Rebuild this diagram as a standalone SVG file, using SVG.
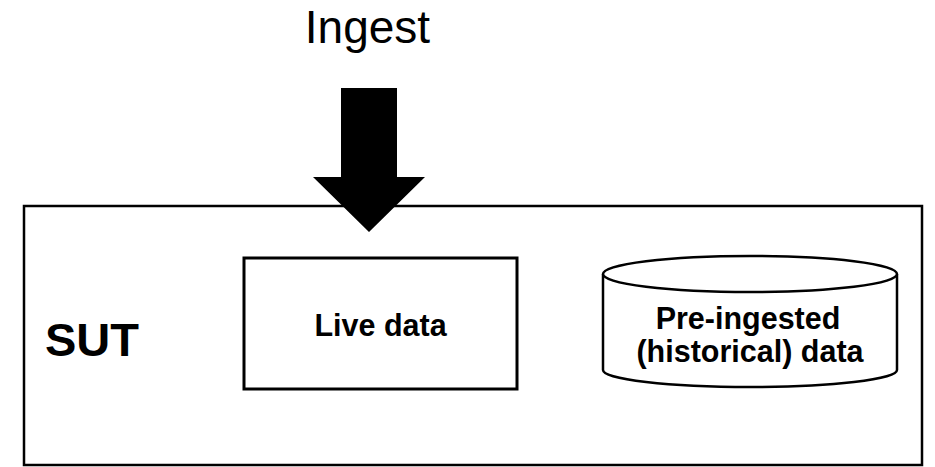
<svg xmlns="http://www.w3.org/2000/svg" width="935" height="467" viewBox="0 0 935 467">
<style>
.lbl{font-family:"Liberation Sans",Arial,sans-serif;fill:#000;text-anchor:middle}
.b{font-weight:bold}
.shape{fill:#fff;stroke:#000}
</style>
<rect width="935" height="467" fill="#fff"/>
<g id="sut">
<rect class="shape" x="24" y="206" width="898" height="259" stroke-width="2.5"/>
<text class="lbl b" x="45" y="356" font-size="47" style="text-anchor:start">SUT</text>
</g>
<g id="live-data">
<rect class="shape" x="244" y="258" width="273" height="131" stroke-width="3"/>
<text class="lbl b" x="380.5" y="336" font-size="30.5">Live data</text>
</g>
<g id="pre-ingested">
<path class="shape" d="M603,274 L603,370 A147,17 0 0 0 897,370 L897,274" stroke-width="2.5"/>
<ellipse class="shape" cx="750" cy="274" rx="147" ry="18" stroke-width="2.5"/>
<text class="lbl b" x="748" y="329" font-size="30.5">Pre-ingested</text>
<text class="lbl b" x="750" y="362" font-size="30.5">(historical) data</text>
</g>
<g id="connectors">
<g id="ingest">
<text class="lbl" x="367.5" y="43" font-size="46">Ingest</text>
<polygon points="341,88 397,88 397,177 425,177 369,232 313,177 341,177" fill="#000"/>
</g>
</g>
</svg>
